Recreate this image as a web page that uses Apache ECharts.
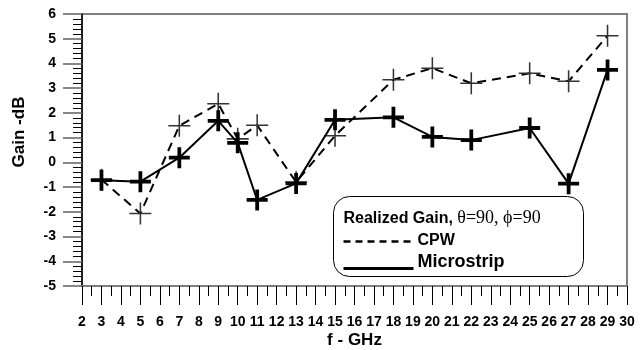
<!DOCTYPE html>
<html>
<head>
<meta charset="utf-8">
<script src="https://cdn.jsdelivr.net/npm/echarts@6/dist/echarts.min.js"></script>
<style>
  html, body { margin: 0; padding: 0; background: #fff; }
  #chart { width: 643px; height: 350px; }
</style>
</head>
<body>
<div id="chart"></div>
<script>
// Frequency points (GHz) shared by both feeds
const freqGHz = [3, 5, 7, 9, 10, 11, 13, 15, 18, 20, 22, 25, 27, 29];
// Realized gain (dB), theta=90, phi=90
const cpwGain = [-0.7, -2.07, 1.48, 2.37, 0.95, 1.5, -0.8, 1.08, 3.34, 3.81, 3.2, 3.6, 3.28, 5.12];
const microstripGain = [-0.72, -0.78, 0.19, 1.68, 0.79, -1.52, -0.85, 1.72, 1.82, 1.03, 0.9, 1.39, -0.86, 3.74];

const FONT = '"Liberation Sans", Arial, sans-serif';
const SERIF = '"Liberation Serif", "Times New Roman", serif';

// plus-shaped markers: heavy for microstrip, thin for CPW
const plusBold = 'path://M8.2,0h3.6v8.2h8.2v3.6h-8.2v8.2h-3.6v-8.2h-8.2v-3.6h8.2z';
const plusThin = 'path://M9.3,0h1.4v9.3h9.3v1.4h-9.3v9.3h-1.4v-9.3h-9.3v-1.4h9.3z';

const pairs = (xs, ys) => xs.map((x, i) => [x, ys[i]]);

const chart = echarts.init(document.getElementById('chart'), null, { renderer: 'canvas' });

chart.setOption({
  animation: false,
  backgroundColor: '#fff',
  grid: {
    left: 82, right: 16, top: 14, bottom: 64,
    outerBoundsMode: 'none',
    show: true, borderColor: '#808080', borderWidth: 2, backgroundColor: 'transparent'
  },
  xAxis: {
    type: 'value',
    min: 2, max: 30, interval: 1,
    name: 'f - GHz',
    nameLocation: 'middle',
    nameGap: 46,
    nameMoveOverlap: false,
    nameTextStyle: { fontFamily: FONT, fontWeight: 'bold', fontSize: 17, color: '#000' },
    axisLine: { show: true, onZero: false, lineStyle: { color: '#808080', width: 2 } },
    axisTick: { show: true, length: 19, lineStyle: { color: '#000', width: 1 } },
    minorTick: { show: true, splitNumber: 2, length: 10, lineStyle: { color: '#000', width: 1 } },
    splitLine: { show: false },
    axisLabel: { margin: 29, fontFamily: FONT, fontWeight: 'bold', fontSize: 14, color: '#000' }
  },
  yAxis: {
    type: 'value',
    min: -5, max: 6, interval: 1,
    name: 'Gain -dB',
    nameLocation: 'middle',
    nameRotate: 90,
    nameGap: 54,
    nameMoveOverlap: false,
    nameTextStyle: { fontFamily: FONT, fontWeight: 'bold', fontSize: 17, color: '#000', padding: [0, 0, 0, 36] },
    axisLine: { show: true, onZero: false, lineStyle: { color: '#000', width: 1.5 } },
    axisTick: { show: true, length: 19, lineStyle: { color: '#606060', width: 1.5 } },
    minorTick: { show: true, splitNumber: 5, length: 9, lineStyle: { color: '#000', width: 1 } },
    splitLine: { show: false },
    axisLabel: { margin: 26, fontFamily: FONT, fontWeight: 'bold', fontSize: 14, color: '#000' }
  },
  series: [
    {
      name: 'CPW',
      type: 'line',
      data: pairs(freqGHz, cpwGain),
      symbol: plusThin,
      symbolSize: 22,
      itemStyle: { color: '#333' },
      lineStyle: { color: '#000', width: 2, type: [9, 6] },
      z: 2
    },
    {
      name: 'Microstrip',
      type: 'line',
      data: pairs(freqGHz, microstripGain),
      symbol: plusBold,
      symbolSize: 21,
      itemStyle: { color: '#000' },
      lineStyle: { color: '#000', width: 2 },
      z: 3
    }
  ],
  graphic: [
    {
      type: 'group',
      left: 333, top: 196, z: 10,
      children: [
        {
          type: 'rect',
          shape: { x: 0, y: 0, width: 250, height: 80, r: 16 },
          style: { fill: '#fff', stroke: '#000', lineWidth: 1 }
        },
        {
          type: 'text',
          x: 10, y: 22,
          style: {
            text: '{a|Realized Gain, }{b|θ=90, ϕ=90}',
            verticalAlign: 'middle',
            rich: {
              a: { fontFamily: FONT, fontWeight: 'bold', fontSize: 16, fill: '#000' },
              b: { fontFamily: SERIF, fontSize: 18, fill: '#000' }
            }
          }
        },
        {
          type: 'line',
          shape: { x1: 10, y1: 45, x2: 81, y2: 45 },
          style: { stroke: '#000', lineWidth: 2.5, lineDash: [7, 5] }
        },
        {
          type: 'text',
          x: 84, y: 44,
          style: { text: 'CPW', fontFamily: FONT, fontWeight: 'bold', fontSize: 16, fill: '#000', verticalAlign: 'middle' }
        },
        {
          type: 'line',
          shape: { x1: 10, y1: 72, x2: 80, y2: 72 },
          style: { stroke: '#000', lineWidth: 3 }
        },
        {
          type: 'text',
          x: 84, y: 66,
          style: { text: 'Microstrip', fontFamily: FONT, fontWeight: 'bold', fontSize: 18, fill: '#000', verticalAlign: 'middle' }
        }
      ]
    }
  ]
});
</script>
</body>
</html>
